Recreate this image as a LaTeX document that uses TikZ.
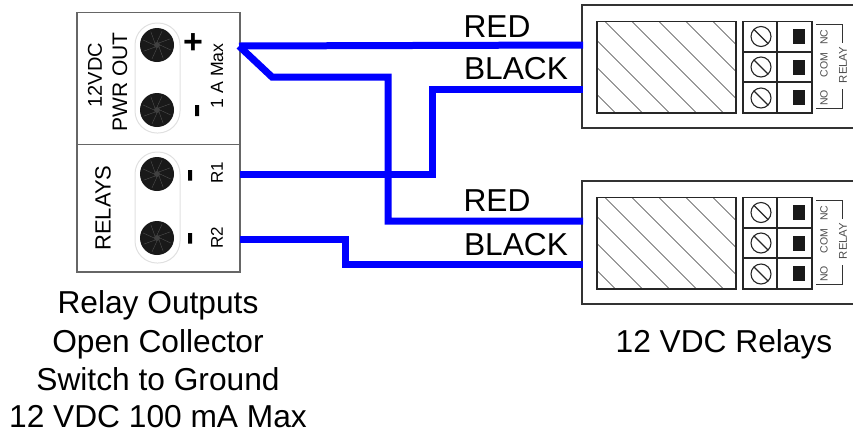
\documentclass[tikz,border=0pt]{standalone}
\usepackage{fontspec}
\setmainfont{Liberation Sans}
\usepackage{tikz}
\usetikzlibrary{calc}
\tikzset{
	wire/.style={draw=blue,line width=7pt,line join=miter},
	housing/.style={draw=black!60,line width=1.3pt},
	outline/.style={draw=black!85,line width=1.2pt},
	pill/.style={draw=black!12,line width=1pt,rounded corners=22pt},
	bigtext/.style={font=\fontsize{31.7}{34}\selectfont,inner sep=0pt,anchor=base},
	uptext/.style={rotate=90,inner sep=0pt},
	pintext/.style={rotate=90,inner sep=0pt,font=\fontsize{10.5}{11}\selectfont,text=black!70}
}
\newcommand{\screwhead}[2]{
	\fill[black!90] (#1,#2) circle (17pt);
	\foreach \a in {0,45,...,315}
		\draw[black!65,line width=0.3pt] (#1,#2) ++(\a:3) -- ++(\a+25:12);
	\fill[black!75] (#1,#2) circle (3pt);
}
\begin{document}
\begin{tikzpicture}[x=1pt,y=-1pt]
	\useasboundingbox (0,0) rectangle (853,432);
	\draw[pill]
	(135,23) rectangle (180,133);
	\draw[pill]
	(135,152) rectangle (180,263);
	\draw[housing]
	(77,12.5) rectangle (240,272);
	\draw[housing,line width=1pt]
	(77,144) -- (240,144);
	\screwhead{157}{45}
	\screwhead{157}{110}
	\screwhead{157}{174}
	\screwhead{157}{238}
	\node[uptext,font=\fontsize{20}{22}\selectfont] (lbl12v) at (95,75) {12VDC};
	\node[uptext,font=\fontsize{21}{23}\selectfont] (lblpwr) at (120,82) {PWR OUT};
	\node[uptext,font=\fontsize{17.7}{19}\selectfont] (lblamax) at (217,76) {1 A Max};
	\node[font=\fontsize{34}{36}\bfseries\selectfont,inner sep=0pt] (lblplus) at (193,44) {+};
	\node[uptext,font=\fontsize{22}{24}\selectfont] (lblrelays) at (103,208) {RELAYS};
	\node[uptext,font=\fontsize{17}{19}\selectfont] (lblrone) at (217,173) {R1};
	\node[uptext,font=\fontsize{17}{19}\selectfont] (lblrtwo) at (217,238) {R2};
	\fill
		(195,105) rectangle (199,116)
		(188,170) rectangle (192,180.5)
		(188,233) rectangle (192,243.5);
	\foreach \y/\name in {0/a,176/b}
	{
	\begin{scope}[shift={(0,\y)}]
	\draw[housing,draw=black!80]
	(853,5) -- (582,5) -- (582,128) -- (853,128);
	\begin{scope}
	\clip (597,21.5) rectangle (736,113);
	\foreach \k in {-4,...,6}
		\draw[black!80,line width=0.6pt] ({597+27*\k-19},21.5) -- +(120,120);
	\end{scope}
	\draw[outline]
	(597,21.5) rectangle (736,113);
	\draw[outline]
	(743,21.5) rectangle (812,113);
	\draw[outline]
	(777,21.5) -- (777,113);
	\draw[outline]
	(743,52) -- (812,52);
	\draw[outline]
	(743,82) -- (812,82);
	\foreach \r in {36.5,67,98}
	{
		\draw[black!85,line width=1.1pt] (761,\r) circle (10pt);
		\draw[black!85,line width=1.1pt] (761,\r) ++(45:10) -- ++(225:20);
	}
	\fill[black!90] (793,29) rectangle (805,44);
	\fill[black!90] (793,59.5) rectangle (805,74.5);
	\fill[black!90] (793,90) rectangle (805,105);
	\node[pintext] (nc\name) at (824,37) {NC};
	\node[pintext] (com\name) at (824,65) {COM};
	\node[pintext] (no\name) at (824,98) {NO};
	\node[pintext,font=\fontsize{11.3}{12}\selectfont] (relay\name) at (843,65) {RELAY};
	\draw[black!80,line width=0.9pt]
	(816,24) -- (842,24) -- (842,43);
	\draw[black!80,line width=0.9pt]
	(816,108) -- (842,108) -- (842,89);
	\end{scope}
	}
	\coordinate (pwr) at (239,46);
	\coordinate (rone) at (240,174);
	\coordinate (rtwo) at (240,239);
	\coordinate (knee) at (272,77);
	\coordinate (dropa) at (388,77);
	\coordinate (dropb) at (432,174);
	\coordinate (dropc) at (345,239);
	\coordinate (redtop) at (583,45);
	\coordinate (blacktop) at (583,89);
	\coordinate (redlow) at (583,221);
	\coordinate (blacklow) at (583,264);
	\draw[wire]
	(pwr) -- (redtop);
	\draw[wire]
	(pwr) -- (knee) -- (dropa) |- (redlow);
	\draw[wire]
	(rone) -- (dropb) |- (blacktop);
	\draw[wire]
	(rtwo) -- (dropc) |- (blacklow);
	\node[bigtext] (redupper) at (497,37) {RED};
	\node[bigtext] (blackupper) at (516,79) {BLACK};
	\node[bigtext] (redlower) at (497,211) {RED};
	\node[bigtext] (blacklower) at (516,255) {BLACK};
	\node[bigtext] (relaycap) at (724,352) {12 VDC Relays};
	\node[bigtext] (capa) at (158,313) {Relay Outputs};
	\node[bigtext] (capb) at (158,352) {Open Collector};
	\node[bigtext] (capc) at (158,390) {Switch to Ground};
	\node[bigtext] (capd) at (158,427) {12 VDC 100 mA Max};
\end{tikzpicture}
\end{document}
